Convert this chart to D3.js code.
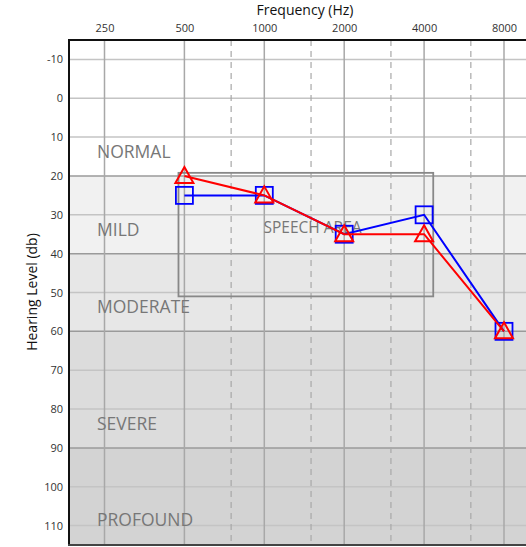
<!DOCTYPE html>
<html><head><meta charset="utf-8">
<script src="https://cdn.jsdelivr.net/npm/d3@7"></script>
<style>body{margin:0;background:#fff}svg{display:block}text{font-family:"Open Sans","Noto Sans",sans-serif}</style>
</head><body><svg id="c" width="526" height="547"></svg>
<script>
const freqTicks = [250, 500, 1000, 2000, 4000, 8000];
const halfOctaves = [750, 1500, 3000, 6000];
const dbTicks = [-10, 0, 10, 20, 30, 40, 50, 60, 70, 80, 90, 100, 110];
const bands = [
  {name: "NORMAL", from: -15, to: 20, labelAt: 15.5},
  {name: "MILD", from: 20, to: 40, labelAt: 35.5},
  {name: "MODERATE", from: 40, to: 60, labelAt: 55.3},
  {name: "SEVERE", from: 60, to: 90, labelAt: 85.5},
  {name: "PROFOUND", from: 90, to: 115, labelAt: 110}
];
const bandColors = ["#ffffff", "#f1f1f1", "#e7e7e7", "#dcdcdc", "#d3d3d3"];
const bandBorders = [20, 40, 60, 90];
const speechArea = {f0: 475, f1: 4330, db0: 19.2, db1: 51};
const blueFreq = [500, 1000, 2000, 4000, 8000];
const blueDb = [25, 25, 35, 30, 60];
const redFreq = [500, 1000, 2000, 4000, 8000];
const redDb = [20, 25, 35, 35, 60];

const svg = d3.select("#c");
const L = 69, T = 40, R = 545, B = 545;
const x = d3.scaleLog().domain([250, 8000]).range([104.5, 504]);
const y = d3.scaleLinear().domain([-15, 115]).range([T, B]);

// bands
svg.selectAll("rect.band").data(bands).join("rect")
  .attr("x", L).attr("width", R - L)
  .attr("y", d => y(d.from)).attr("height", d => y(d.to) - y(d.from))
  .attr("fill", (d, i) => bandColors[i]);

// horizontal grid
svg.selectAll("line.hg").data(dbTicks).join("line")
  .attr("x1", L).attr("x2", R).attr("y1", d => y(d)).attr("y2", d => y(d))
  .attr("stroke", d => bandBorders.includes(d) ? "#9a9a9a" : "#c4c4c4")
  .attr("stroke-width", 1.5);

// vertical grid
svg.selectAll("line.vg").data(freqTicks).join("line")
  .attr("x1", d => x(d)).attr("x2", d => x(d)).attr("y1", T).attr("y2", B)
  .attr("stroke", "#a8a8a8").attr("stroke-width", 1.5);
svg.selectAll("line.vd").data(halfOctaves).join("line")
  .attr("x1", d => x(d)).attr("x2", d => x(d)).attr("y1", T).attr("y2", B)
  .attr("stroke", "#a8a8a8").attr("stroke-width", 1.2).attr("stroke-dasharray", "6,5");

// band labels
svg.selectAll("text.bl").data(bands).join("text")
  .attr("x", L + 28).attr("y", d => y(d.labelAt))
  .attr("font-size", 17.5).attr("fill", "#777").text(d => d.name);

// speech area
svg.append("rect")
  .attr("x", x(speechArea.f0)).attr("y", y(speechArea.db0))
  .attr("width", x(speechArea.f1) - x(speechArea.f0))
  .attr("height", y(speechArea.db1) - y(speechArea.db0))
  .attr("fill", "none").attr("stroke", "#888").attr("stroke-width", 1.8);
svg.append("text").attr("x", x(1520)).attr("y", y(34.8))
  .attr("text-anchor", "middle").attr("font-size", 15.5).attr("fill", "#777").text("SPEECH AREA");

// axes
const topAxis = d3.axisTop(x).tickValues(freqTicks).tickFormat(d => String(d)).tickSize(0).tickPadding(8);
const ga = svg.append("g").attr("transform", `translate(0,${T})`).call(topAxis);
ga.select(".domain").remove();
ga.selectAll("text").attr("font-size", 11).attr("fill", "#333").attr("font-family", "'Open Sans',sans-serif");
const leftAxis = d3.axisLeft(y).tickValues(dbTicks).tickFormat(d => String(d)).tickSize(0).tickPadding(6);
const gl = svg.append("g").attr("transform", `translate(${L},0)`).call(leftAxis);
gl.select(".domain").remove();
gl.selectAll("text").attr("font-size", 11).attr("fill", "#333").attr("font-family", "'Open Sans',sans-serif");

// borders
svg.append("line").attr("x1", L - 1).attr("x2", R).attr("y1", T).attr("y2", T).attr("stroke", "#111").attr("stroke-width", 2);
svg.append("line").attr("x1", L).attr("x2", L).attr("y1", T).attr("y2", B).attr("stroke", "#111").attr("stroke-width", 2);
svg.append("line").attr("x1", L - 1).attr("x2", R).attr("y1", B).attr("y2", B).attr("stroke", "#444").attr("stroke-width", 2);

// titles
svg.append("text").attr("x", 305).attr("y", 15).attr("text-anchor", "middle")
  .attr("font-size", 14).attr("fill", "#111").text("Frequency (Hz)");
svg.append("text").attr("transform", "translate(37,292) rotate(-90)").attr("text-anchor", "middle")
  .attr("font-size", 14).attr("fill", "#111").text("Hearing Level (db)");

// series
const blue = blueFreq.map((f, i) => [f, blueDb[i]]);
const red = redFreq.map((f, i) => [f, redDb[i]]);
const line = d3.line().x(d => x(d[0])).y(d => y(d[1]));
svg.append("path").datum(blue).attr("d", line).attr("fill", "none").attr("stroke", "#0000ff").attr("stroke-width", 2);
svg.selectAll("rect.sq").data(blue).join("rect")
  .attr("x", d => x(d[0]) - 8.5).attr("y", d => y(d[1]) - 8.5).attr("width", 17).attr("height", 17)
  .attr("fill", "none").attr("stroke", "#0000ff").attr("stroke-width", 1.8);
svg.append("path").datum(red).attr("d", line).attr("fill", "none").attr("stroke", "#ff0000").attr("stroke-width", 2);
svg.selectAll("path.tri").data(red).join("path")
  .attr("transform", d => `translate(${x(d[0])},${y(d[1])})`)
  .attr("d", "M0,-9L9,7L-9,7Z")
  .attr("fill", "none").attr("stroke", "#ff0000").attr("stroke-width", 2);
</script></body></html>
